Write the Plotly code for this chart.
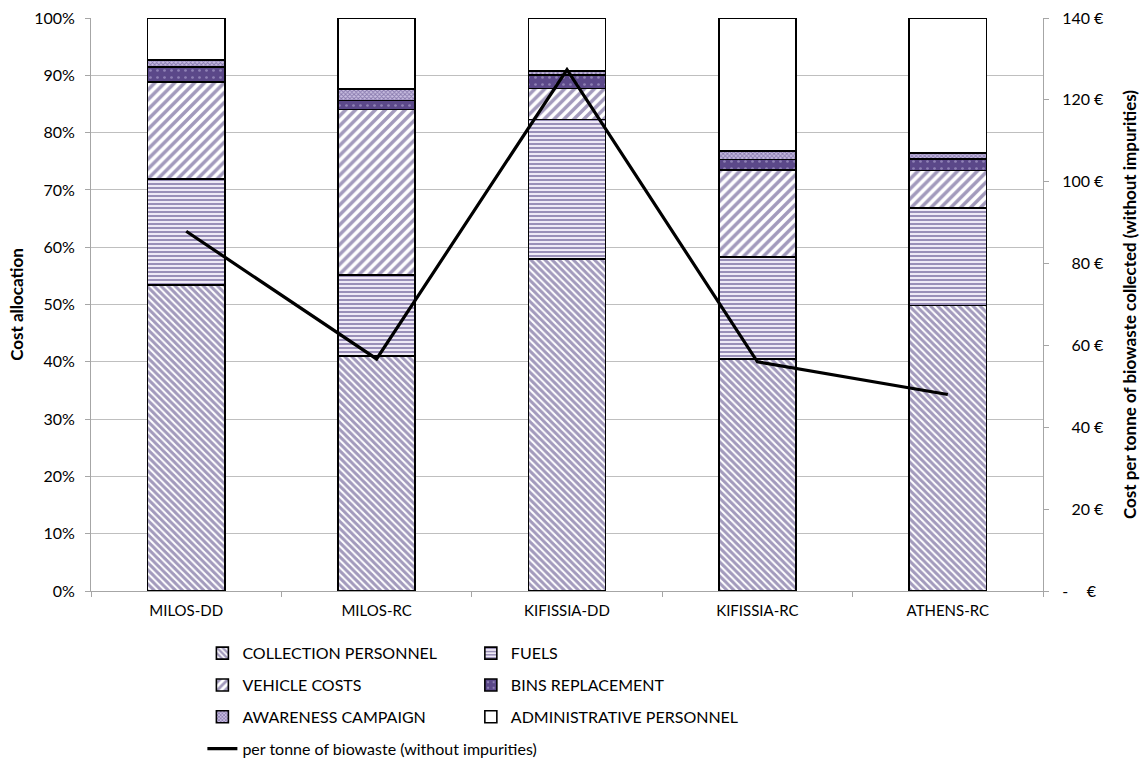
import plotly.graph_objects as go
from plotly.subplots import make_subplots

# Schemes compared
schemes = ["MILOS-DD", "MILOS-RC", "KIFISSIA-DD", "KIFISSIA-RC", "ATHENS-RC"]

# Cost allocation per scheme (% of total cost)
collection_personnel = [53.4, 41.0, 57.9, 40.5, 49.8]
fuels = [18.5, 14.1, 24.4, 17.8, 17.0]
vehicle_costs = [16.9, 28.9, 5.4, 15.2, 6.6]
bins_replacement = [2.6, 1.6, 2.4, 1.8, 2.0]
awareness_campaign = [1.3, 2.0, 0.6, 1.5, 1.0]
administrative_personnel = [7.3, 12.4, 9.3, 23.2, 23.6]

# Cost per tonne of biowaste collected, without impurities (EUR)
cost_per_tonne = [87.9, 56.7, 127.4, 56.0, 48.0]

# Right-axis tick labels in accounting style
euro_ticks = [0, 20, 40, 60, 80, 100, 120, 140]
euro_text = ["-\u2007\u2007€", "\u200720 €", "\u200740 €", "\u200760 €",
             "\u200780 €", "100 €", "120 €", "140 €"]

PURPLE = "#46357a"
LAVENDER = "#c8bde0"
FONT = "Lato, Carlito, 'Open Sans', sans-serif"

fig = make_subplots(specs=[[{"secondary_y": True}]])

segments = [
    ("COLLECTION PERSONNEL", collection_personnel,
     dict(shape="\\", fgcolor=PURPLE, bgcolor="white", size=5, solidity=0.6), "legend"),
    ("FUELS", fuels,
     dict(shape="-", fgcolor=PURPLE, bgcolor="#efeaf6", size=4, solidity=0.5), "legend2"),
    ("VEHICLE COSTS", vehicle_costs,
     dict(shape="/", fgcolor=PURPLE, bgcolor="white", size=7, solidity=0.5), "legend"),
    ("BINS REPLACEMENT", bins_replacement,
     dict(shape=".", fgcolor="#c4b9e2", bgcolor="#5b4889", size=7, solidity=0.12), "legend2"),
    ("AWARENESS CAMPAIGN", awareness_campaign,
     dict(shape="x", fgcolor=PURPLE, bgcolor=LAVENDER, size=3, solidity=0.5), "legend"),
    ("ADMINISTRATIVE PERSONNEL", administrative_personnel,
     dict(shape="", fgcolor="white", bgcolor="white"), "legend2"),
]

for name, vals, pattern, leg in segments:
    fig.add_trace(
        go.Bar(
            x=schemes, y=vals, name=name,
            width=0.405,
            marker=dict(color="white", pattern=pattern,
                        line=dict(color="black", width=1.6)),
            legend=leg, legendgroup=name,
            hovertemplate="%{x}<br>" + name + ": %{y:.1f}%<extra></extra>",
        ),
        secondary_y=False,
    )

fig.add_trace(
    go.Scatter(
        x=schemes, y=cost_per_tonne, mode="lines",
        name="per tonne of biowaste (without impurities)",
        line=dict(color="black", width=3.2),
        legend="legend", legendgroup="line",
        hovertemplate="%{x}: %{y:.1f} €<extra></extra>",
    ),
    secondary_y=True,
)

legend_style = dict(
    orientation="v", yanchor="top", xanchor="left",
    font=dict(family=FONT, size=16, color="black"),
    bgcolor="rgba(0,0,0,0)", tracegroupgap=8, itemwidth=30,
    traceorder="grouped",
)

fig.update_layout(
    width=1148, height=764,
    margin=dict(l=91, r=105, t=18, b=173, autoexpand=False),
    paper_bgcolor="white", plot_bgcolor="white",
    barmode="stack", bargap=0.6,
    font=dict(family=FONT, size=15, color="black"),
    legend=dict(x=0.117, y=-0.079, **legend_style),
    legend2=dict(x=0.399, y=-0.079, **legend_style),
    showlegend=True,
)

fig.update_xaxes(
    domain=[0, 1],
    showline=True, linecolor="#a6a6a6", linewidth=1,
    ticks="outside", tickson="boundaries", ticklen=5, tickcolor="#a6a6a6",
    tickfont=dict(family=FONT, size=15, color="black"),
    ticklabelstandoff=6,
    showgrid=False, automargin=False,
)

fig.update_yaxes(
    range=[0, 100], dtick=10, ticksuffix="%",
    showline=True, linecolor="#a6a6a6", linewidth=1,
    ticks="outside", ticklen=5, tickcolor="#a6a6a6",
    showgrid=True, gridcolor="#bfbfbf", gridwidth=1,
    tickfont=dict(family=FONT, size=16, color="black"),
    ticklabelstandoff=7,
    title=dict(text="<b>Cost allocation</b>", standoff=6,
               font=dict(family=FONT, size=17, color="black")),
    zeroline=False, automargin=False,
    secondary_y=False,
)

fig.update_yaxes(
    range=[0, 140], tickvals=euro_ticks, ticktext=euro_text,
    showline=True, linecolor="#a6a6a6", linewidth=1,
    ticks="outside", ticklen=5, tickcolor="#a6a6a6",
    showgrid=False, zeroline=False,
    tickfont=dict(family=FONT, size=16, color="black"),
    ticklabelstandoff=10,
    title=dict(text="<b>Cost per tonne of biowaste collected (without impurities)</b>",
               standoff=20, font=dict(family=FONT, size=17, color="black")),
    automargin=False,
    secondary_y=True,
)

fig.write_html("out.html")
